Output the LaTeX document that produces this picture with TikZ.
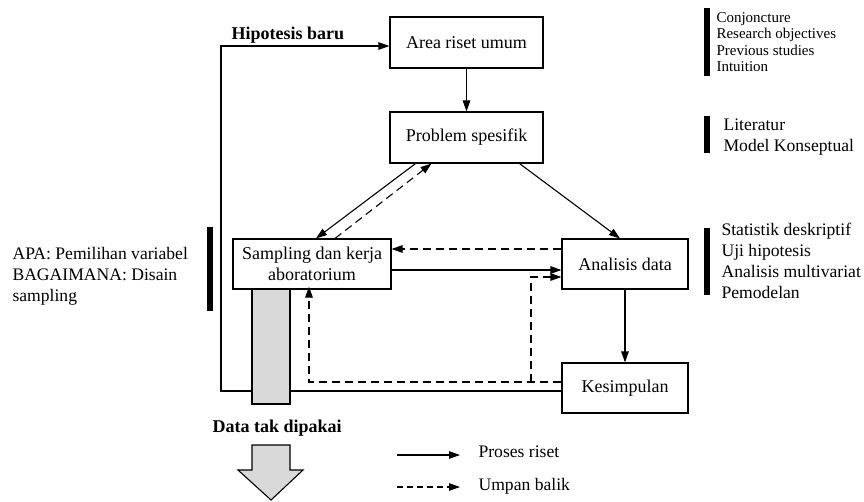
\documentclass[tikz,border=0pt]{standalone}
\usepackage{fontspec}
\setmainfont{Liberation Serif}
\usetikzlibrary{arrows.meta}
\begin{document}
\begin{tikzpicture}[x=1pt,y=-1pt,
  line width=1.1pt,
  tip/.style={-{Triangle[length=11pt,width=7.5pt]}},
  fb/.style={tip,dash pattern=on 8pt off 5pt},
  box/.style={draw,rectangle,inner sep=2pt,align=center,font=\fontsize{18}{21}\selectfont},
  txt/.style={anchor=west,align=left,inner sep=0pt,font=\fontsize{17.6}{21}\selectfont},
  small/.style={anchor=west,align=left,inner sep=0pt,font=\fontsize{15}{16.3}\selectfont},
  bar/.style={line width=5.5pt},
  gray box/.style={draw,fill=black!15,line width=1.1pt}]
\useasboundingbox (0,0) rectangle (864,501);

% boxes
\node[box,minimum width=153pt,minimum height=51pt] (b1) at (466.5,42.5) {Area riset umum};
\node[box,minimum width=153pt,minimum height=51pt] (b2) at (466.5,137.5) {Problem spesifik};
\node[box,minimum width=158pt,minimum height=50pt] (samp) at (312,264) {Sampling dan kerja\\aboratorium};
\node[box,minimum width=126pt,minimum height=50pt] (anal) at (625,264) {Analisis data};
\node[box,minimum width=126pt,minimum height=50pt] (kes) at (625,388) {Kesimpulan};

% labels
\node[txt,font=\fontsize{18}{21}\selectfont\bfseries] (hip) at (231,35) {Hipotesis baru};
\node[txt,font=\fontsize{18}{21}\selectfont\bfseries] (dtk) at (212,428) {Data tak dipakai};
\node[txt] (left) at (12,276) {APA: Pemilihan variabel\\BAGAIMANA: Disain\\sampling};
\node[small] (r1) at (716,42) {Conjoncture\\Research objectives\\Previous studies\\Intuition};
\node[txt] (r2) at (723,137) {Literatur\\Model Konseptual};
\node[txt] (r3) at (721,261) {Statistik deskriptif\\Uji hipotesis\\Analisis multivariat\\Pemodelan};

% bars
\draw[bar] (210,227) -- (210,311);
\draw[bar] (707,8) -- (707,76);
\draw[bar] (707,116) -- (707,153);
\draw[bar] (707,228) -- (707,295);

% process arrows
\draw[tip] (b1.south) -- (b2.north);
\draw[tip] ([xshift=-51pt]b2.south) -- ([xshift=4pt]samp.north);
\draw[fb] ([xshift=23pt]samp.north) -- ([xshift=-35pt]b2.south);
\draw[tip] ([xshift=53pt]b2.south) -- ([xshift=-5pt]anal.north);
\draw[tip] ([yshift=-6pt]samp.east) -- ([yshift=-6pt]anal.west);
\draw[fb] ([yshift=15pt]anal.west) -- ([yshift=15pt]samp.east);
\draw[tip] (anal.south) -- (kes.north);

% feedback from Kesimpulan
\coordinate (br) at (531,382);
\draw[fb] ([yshift=6pt]kes.west) -| ([xshift=-3pt,yshift=3pt]samp.south);
\draw[fb] (br) |- ([yshift=-13pt]anal.west);

% new hypothesis loop
\coordinate (hl) at (221,391);
\coordinate (hu) at (221,46);
\draw[tip] ([yshift=-3pt]kes.west) -- (hl) -- (hu) -- (hu -| b1.west);

% unused data column
\draw[gray box] (252,289) rectangle (290,404);
\draw[gray box] (252,445) -- (290,445) -- (290,470) -- (303,470) -- (271,500) -- (238,470) -- (252,470) -- cycle;

% legend
\coordinate (l1a) at (397,455);
\coordinate (l1b) at (460,455);
\coordinate (l2a) at (397,487);
\coordinate (l2b) at (460,487);
\draw[tip] (l1a) -- (l1b);
\draw[tip,dash pattern=on 6pt off 4pt] (l2a) -- (l2b);
\node[txt] (lg1) at (478,452) {Proses riset};
\node[txt] (lg2) at (478,486) {Umpan balik};
\end{tikzpicture}
\end{document}
